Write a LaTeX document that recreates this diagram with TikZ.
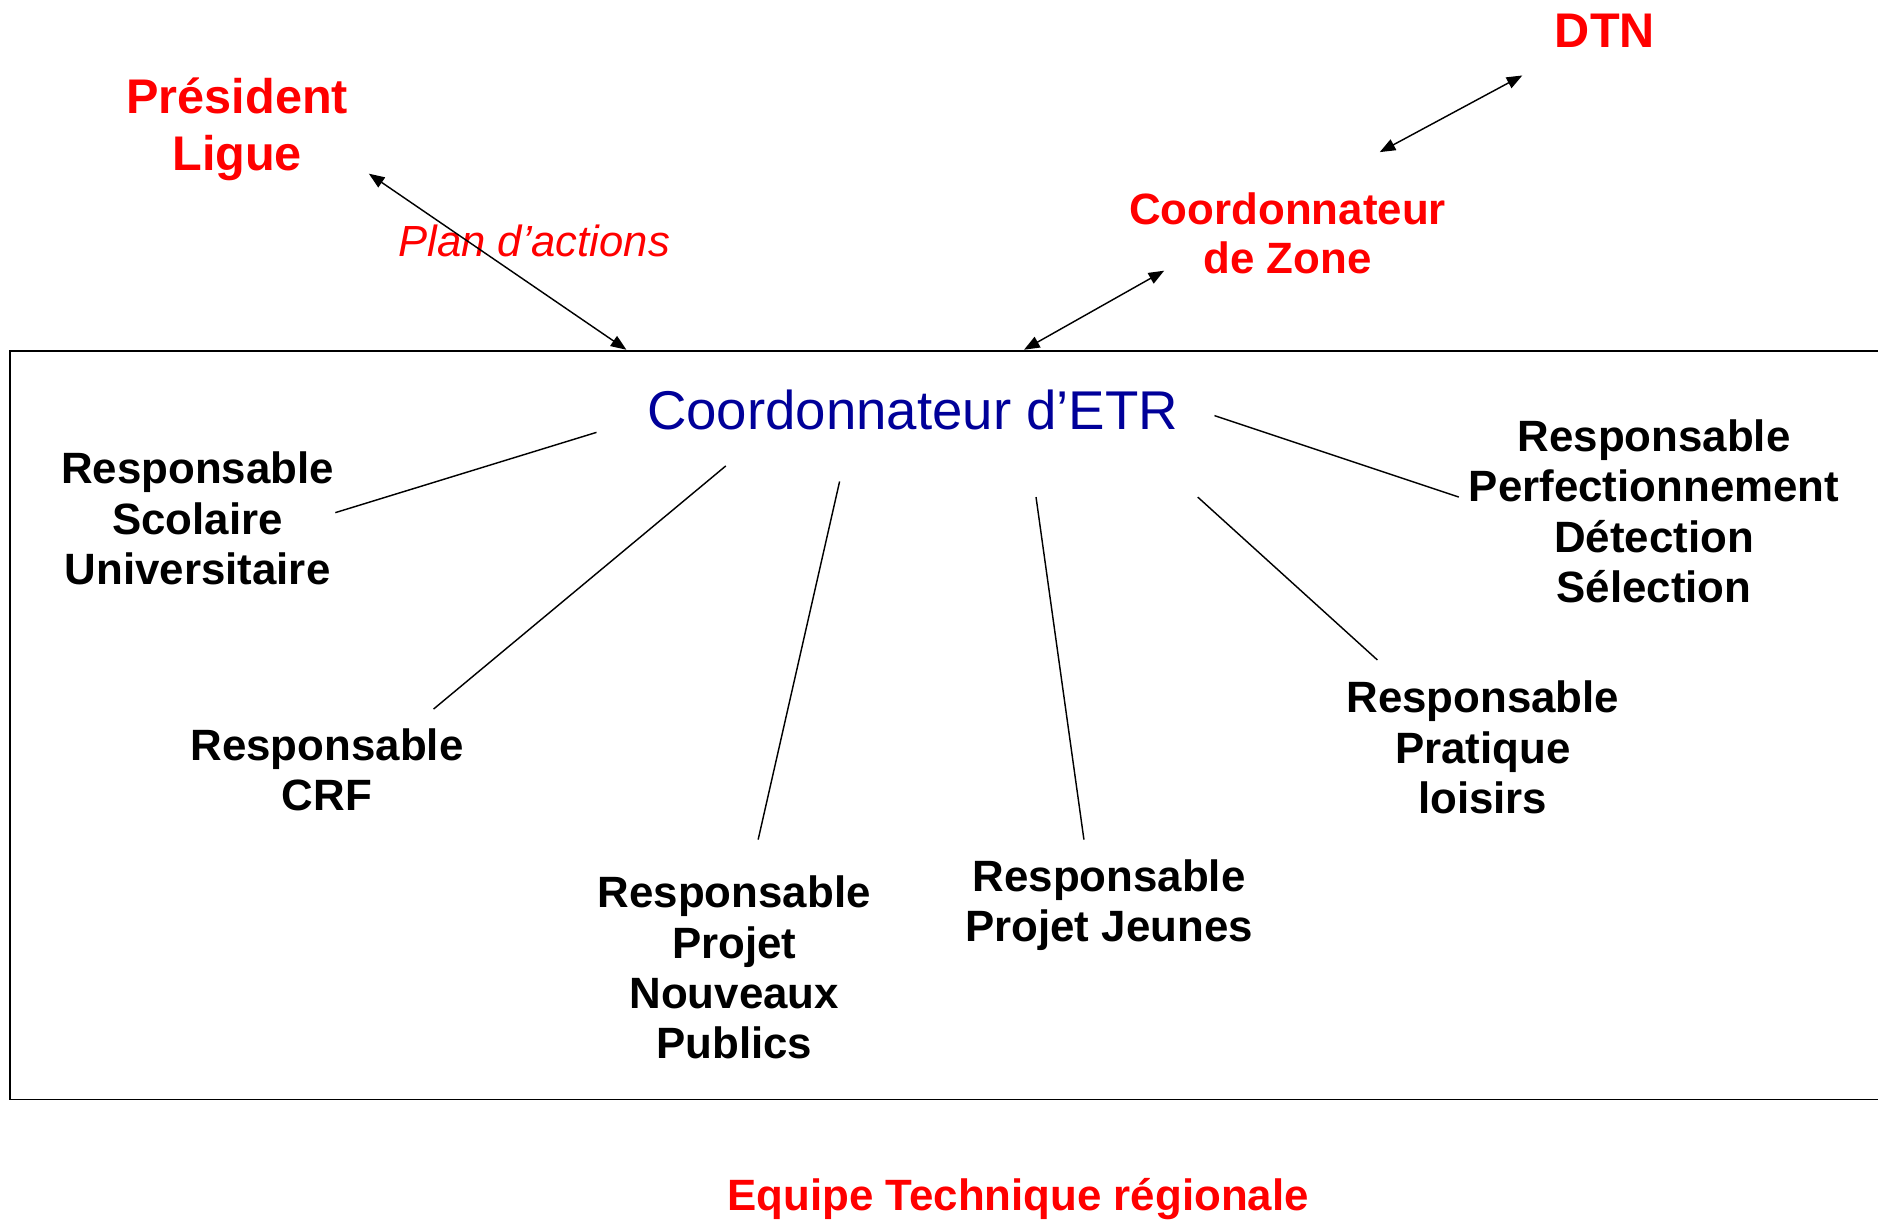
\documentclass[tikz,border=0pt]{standalone}
\usepackage{fontspec}
\setmainfont{Liberation Sans}
\usetikzlibrary{arrows.meta}
\definecolor{etrblue}{RGB}{0,0,153}
\definecolor{lred}{RGB}{255,0,0}
\begin{document}
\begin{tikzpicture}[x=0.5pt,y=-0.5pt,
 resp/.style={align=center,font=\bfseries\fontsize{18.3}{21}\selectfont,inner sep=0pt},
 redlbl/.style={align=center,text=lred,font=\bfseries\fontsize{18.3}{20.5}\selectfont,inner sep=0pt},
 bigred/.style={align=center,text=lred,font=\bfseries\fontsize{20.3}{23.5}\selectfont,inner sep=0pt},
 link/.style={line width=0.6pt},
 dblarrow/.style={line width=0.6pt,{Triangle[length=6.5pt,width=5pt]}-{Triangle[length=6.5pt,width=5pt]}},
 frame/.style={line width=0.8pt}
]
\useasboundingbox (0,0) rectangle (1568,1019);
% frame
\draw[frame] (1570,293) -- (8,293) -- (8,918) -- (1570,918);
% nodes
\node[bigred] (dtn) at (1340,26) {DTN};
\node[bigred] (pres) at (198,108) {Président\\Ligue};
\node[redlbl] (zone) at (1075,195) {Coordonnateur\\de Zone};
\node[text=lred,font=\itshape\fontsize{18.2}{20}\selectfont,inner sep=0pt] (plan) at (446,201) {Plan d’actions};
\node[text=etrblue,font=\fontsize{22.8}{26}\selectfont,inner sep=0pt] (etr) at (762,342) {Coordonnateur d’ETR};
\node[resp] (scol) at (165,433) {Responsable\\Scolaire\\Universitaire};
\node[resp] (crf) at (273,643) {Responsable\\CRF};
\node[resp] (npub) at (613,808) {Responsable\\Projet\\Nouveaux\\Publics};
\node[resp] (jeunes) at (926,756) {Responsable\\Projet Jeunes};
\node[resp] (loisirs) at (1238,624) {Responsable\\Pratique\\loisirs};
\node[resp] (perf) at (1381,427) {Responsable\\Perfectionnement\\Détection\\Sélection};
\node[redlbl] (equipe) at (850,1001) {Equipe Technique régionale};
% connector end points
\coordinate (presA) at (308,145);
\coordinate (presB) at (523,292);
\coordinate (zoneA) at (855,292);
\coordinate (zoneB) at (972,226);
\coordinate (dtnA) at (1152,127);
\coordinate (dtnB) at (1271,63);
\coordinate (e1) at (498,361);  \coordinate (s1) at (280,428);
\coordinate (e2) at (606,389);  \coordinate (s2) at (362,592);
\coordinate (e3) at (701,402);  \coordinate (s3) at (633,701);
\coordinate (e4) at (865,415);  \coordinate (s4) at (905,701);
\coordinate (e5) at (1000,415); \coordinate (s5) at (1150,551);
\coordinate (e6) at (1014,347); \coordinate (s6) at (1218,415);
% arrows
\draw[dblarrow] (presA) -- (presB);
\draw[dblarrow] (zoneA) -- (zoneB);
\draw[dblarrow] (dtnA) -- (dtnB);
% links
\draw[link] (e1) -- (s1);
\draw[link] (e2) -- (s2);
\draw[link] (e3) -- (s3);
\draw[link] (e4) -- (s4);
\draw[link] (e5) -- (s5);
\draw[link] (e6) -- (s6);
\end{tikzpicture}
\end{document}
